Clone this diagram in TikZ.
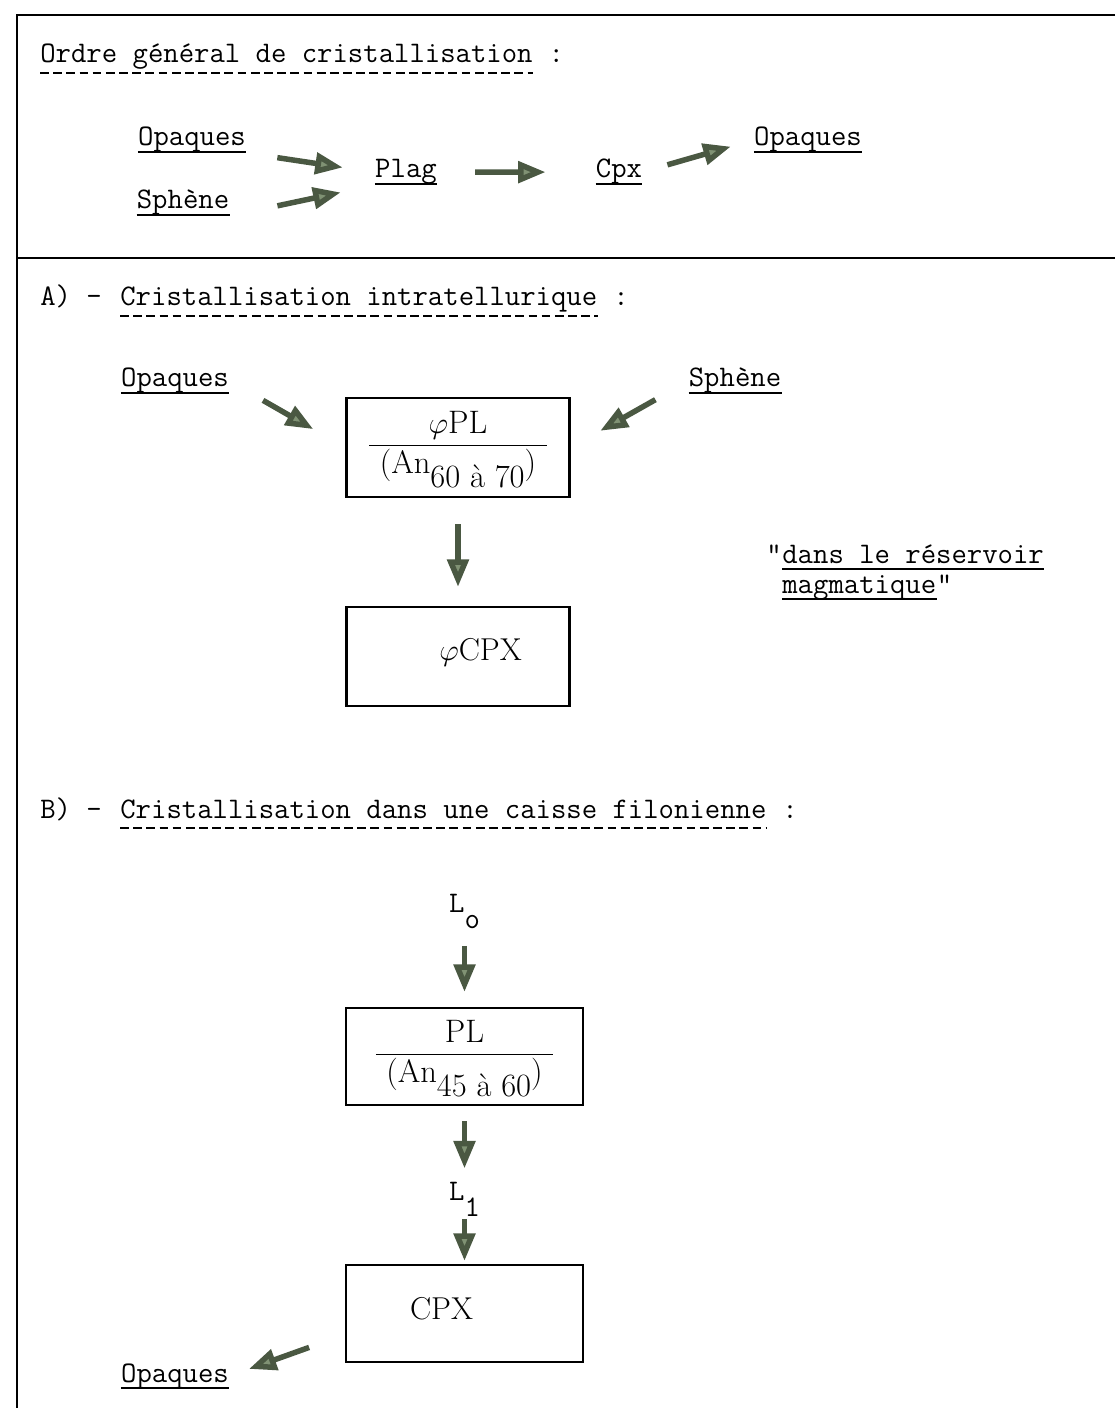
\documentclass[tikz,border=0pt]{standalone}
\usepackage{fontspec}
\usetikzlibrary{arrows.meta,positioning,calc}
\definecolor{flowgreen}{RGB}{128,146,116}
\definecolor{flowdark}{RGB}{74,88,66}
\tikzset{
  tw/.style={font=\fontsize{17}{20}\selectfont\ttfamily, inner sep=0pt},
  flow/.style={-{Triangle[length=0.55cm,width=0.42cm,fill=flowgreen]}, line width=0.11cm, draw=flowdark},
  ulsolid/.style={line width=0.7pt},
  uldash/.style={line width=0.9pt, dash pattern=on 5pt off 2.5pt},
  stage/.style={draw, line width=1.3pt, minimum width=4.46cm, minimum height=1.98cm,
    font=\fontsize{18.5}{22}\selectfont, inner sep=0pt},
  frame/.style={line width=1.1pt}
}
\newcommand{\ulsolid}[1]{\draw[ulsolid] ([yshift=-3.4pt]#1.base west) -- ([yshift=-3.4pt]#1.base east);}
\newcommand{\uldash}[1]{\draw[uldash] ([yshift=-5.6pt]#1.base west) -- ([yshift=-5.6pt]#1.base east);}
\begin{document}
\begin{tikzpicture}[x=0.02cm, y=-0.02cm]
  \useasboundingbox (0,0) rectangle (1115,1408);
  % frame
  \draw[frame] (1115,15) -- (17,15) -- (17,1408);
  \draw[frame] (17,258) -- (1115,258);

  % ordre general
  \node[tw, anchor=base west] (ttlG) at (40,63) {Ordre général de cristallisation};
  \node[tw, anchor=base west] (ttlGc) at (ttlG.base east) {\ :};
  \uldash{ttlG}
  \node[tw, anchor=base] (opqG) at (192,146) {Opaques};
  \node[tw, anchor=base] (sphG) at (183,209) {Sphène};
  \node[tw, anchor=base] (plagG) at (406,178) {Plag};
  \node[tw, anchor=base] (cpxG) at (619,178) {Cpx};
  \node[tw, anchor=base] (opqG2) at (808,146) {Opaques};
  \ulsolid{opqG} \ulsolid{sphG} \ulsolid{plagG} \ulsolid{cpxG} \ulsolid{opqG2}
  \draw[flow, shorten <=0.63cm, shorten >=0.65cm] (opqG.south east) -- (plagG.west);
  \draw[flow, shorten <=0.98cm, shorten >=0.7cm] (sphG.south east) -- (plagG.south west);
  \draw[flow, shorten <=0.76cm, shorten >=1.0cm] (plagG.east) -- (cpxG.west);
  \draw[flow, shorten <=0.52cm, shorten >=0.48cm] (cpxG.east) -- (opqG2.west);

  % A) intratellurique
  \node[tw, anchor=base west] (tagA) at (40,306) {A) -};
  \node[tw, anchor=base west] (ttlA) at (120,306) {Cristallisation intratellurique};
  \node[tw, anchor=base west] (ttlAc) at (ttlA.base east) {\ :};
  \uldash{ttlA}
  \node[tw, anchor=base] (opqA) at (175,387) {Opaques};
  \node[tw, anchor=base] (sphA) at (735,387) {Sphène};
  \ulsolid{opqA} \ulsolid{sphA}
  \node[stage] (boxA1) at (458,447.5)
    {\begin{tabular}{c}$\varphi$PL\\\hline(An\raisebox{-0.45em}{60 à 70})\end{tabular}};
  \node[stage] (boxA2) at (458,656.5) {};
  \node[font=\fontsize{18}{21}\selectfont] (cpxA) at ([xshift=0.45cm, yshift=0.09cm]boxA2.center) {$\varphi$CPX};
  \draw[flow, shorten <=0.78cm, shorten >=0.74cm] (opqA.east) -- (boxA1.west);
  \draw[flow, shorten <=0.76cm, shorten >=0.68cm] (sphA.west) -- (boxA1.east);
  \draw[flow, shorten <=0.52cm, shorten >=0.38cm] (boxA1.south) -- (boxA2.north);
  \node[tw, anchor=base west] (resA1) at (782,563) {dans le réservoir};
  \node[tw, anchor=base east] (qA1) at (resA1.base west) {"};
  \node[tw, anchor=base west] (resA2) at (782,593) {magmatique};
  \node[tw, anchor=base west] (qA2) at (resA2.base east) {"};
  \ulsolid{resA1} \ulsolid{resA2}

  % B) caisse filonienne
  \node[tw, anchor=base west] (tagB) at (40,818) {B) -};
  \node[tw, anchor=base west] (ttlB) at (120,818) {Cristallisation dans une caisse filonienne};
  \node[tw, anchor=base west] (ttlBc) at (ttlB.base east) {\ :};
  \uldash{ttlB}
  \node[tw, anchor=base] (lzero) at (464.5,912) {L\raisebox{-0.55em}{o}};
  \node[stage, minimum width=4.74cm, minimum height=1.94cm] (boxB1) at (464.5,1056.5)
    {\begin{tabular}{c}PL\\\hline(An\raisebox{-0.45em}{45 à 60})\end{tabular}};
  \node[tw, anchor=base] (lone) at (464.5,1200) {L\raisebox{-0.55em}{1}};
  \node[stage, minimum width=4.74cm, minimum height=1.94cm] (boxB2) at (464.5,1313.5) {};
  \node[font=\fontsize{18}{21}\selectfont] (cpxB) at ([xshift=-0.46cm, yshift=0.1cm]boxB2.center) {CPX};
  \node[tw, anchor=base] (opqB) at (175,1382) {Opaques};
  \ulsolid{opqB}
  \draw[flow, shorten <=0.34cm, shorten >=0.3cm] (lzero.south) -- (boxB1.north);
  \draw[flow, shorten <=0.3cm, shorten >=0.26cm] (boxB1.south) -- (lone.north);
  \draw[flow, shorten <=0.04cm, shorten >=0.06cm] (lone.south) -- (boxB2.north);
  \draw[flow, shorten <=0.76cm, shorten >=0.42cm] (boxB2.190) -- (opqB.east);
\end{tikzpicture}
\end{document}
